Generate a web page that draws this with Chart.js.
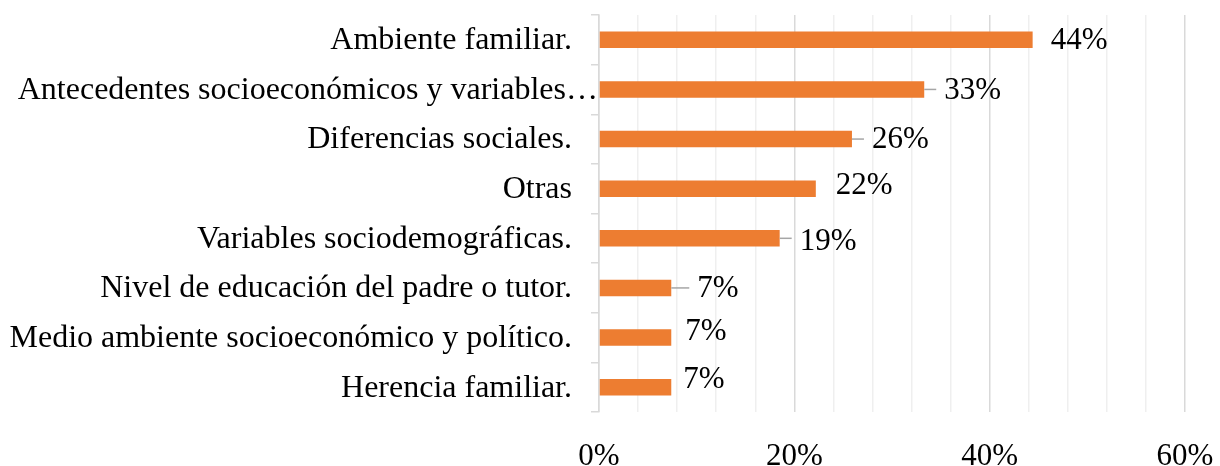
<!DOCTYPE html>
<html>
<head>
  <script src="https://cdn.jsdelivr.net/npm/chart.js@4.4.1/dist/chart.umd.min.js"></script>
  <style>
    body { margin: 0; padding: 0; overflow: hidden; background: #fff; }
    .wrap { width: 1220px; height: 466px; }
  </style>
</head>
<body>
  <div class="wrap"><canvas id="c"></canvas></div>
  <script>
    // categories and values (percent of 27 answers)
    const categories = [
      'Ambiente familiar.',
      'Antecedentes socioeconómicos y variables…',
      'Diferencias sociales.',
      'Otras',
      'Variables sociodemográficas.',
      'Nivel de educación del padre o tutor.',
      'Medio ambiente socioeconómico y político.',
      'Herencia familiar.'
    ];
    const values = [44.4, 33.3, 25.9, 22.2, 18.5, 7.4, 7.4, 7.4];
    const valueLabels = ['44%', '33%', '26%', '22%', '19%', '7%', '7%', '7%'];
    const xTicks = [0, 20, 40, 60];

    const serif = '"Liberation Serif", "Times New Roman", serif';

    // label offsets from bar end: [dx, dy, leader line?]
    const labelPlace = [
      [18, 1, false], [20, 1, true], [20, 1, true], [20, -3, false],
      [20, 4, true], [26, 1, true], [14, -6, false], [12, -7, false]
    ];

    // value labels next to bars
    const barLabels = {
      id: 'barLabels',
      afterDatasetsDraw(chart) {
        const ctx = chart.ctx;
        const meta = chart.getDatasetMeta(0);
        ctx.save();
        ctx.font = '31px ' + serif;
        ctx.fillStyle = '#000';
        ctx.textBaseline = 'middle';
        meta.data.forEach((bar, i) => {
          const [dx, dy, leader] = labelPlace[i];
          const tx = bar.x + dx;
          const ty = bar.y + dy;
          if (leader) {
            ctx.strokeStyle = '#a6a6a6';
            ctx.lineWidth = 1.5;
            ctx.beginPath();
            ctx.moveTo(bar.x, bar.y);
            ctx.lineTo(tx - 8, bar.y);
            ctx.stroke();
          }
          ctx.fillText(valueLabels[i], tx, ty);
        });
        ctx.restore();
      }
    };

    // category labels, the truncated one runs over the tick marks like in Excel
    const catLabels = {
      id: 'catLabels',
      afterDraw(chart) {
        const y = chart.scales.y;
        const ctx = chart.ctx;
        ctx.save();
        ctx.font = '32px ' + serif;
        ctx.fillStyle = '#000';
        ctx.textAlign = 'right';
        ctx.textBaseline = 'middle';
        categories.forEach((c, i) => {
          const right = c.endsWith('…') ? y.right - 1 : y.right - 27;
          ctx.fillText(c, right, y.getPixelForValue(i) + 1);
        });
        ctx.restore();
      }
    };

    new Chart(document.getElementById('c'), {
      type: 'bar',
      data: {
        labels: categories,
        datasets: [{
          data: values,
          backgroundColor: '#ed7d31',
          barPercentage: 0.33,
          categoryPercentage: 1.0
        }]
      },
      options: {
        indexAxis: 'y',
        responsive: true,
        maintainAspectRatio: false,
        animation: false,
        layout: { padding: { top: 15, right: 0, left: 0, bottom: 0 } },
        plugins: {
          legend: { display: false },
          tooltip: { enabled: false }
        },
        scales: {
          x: {
            min: 0,
            max: 60,
            border: { display: false },
            grid: {
              color: ctx => (ctx.tick && ctx.tick.value % 20 === 0) ? '#d9d9d9' : '#efefef',
              lineWidth: 1.5,
              drawTicks: false
            },
            ticks: {
              stepSize: 4,
              autoSkip: false,
              maxRotation: 0,
              padding: 26,
              color: '#000',
              font: { family: serif, size: 31 },
              callback: v => xTicks.includes(v) ? v + '%' : ''
            },
            afterFit(scale) {
              scale.height = 54;
              scale.paddingRight = 35;
              scale.paddingLeft = 0;
            }
          },
          y: {
            offset: true,
            border: { display: true, color: '#d9d9d9', width: 1.5 },
            grid: {
              offset: true,
              drawOnChartArea: false,
              color: '#d9d9d9',
              lineWidth: 1.5,
              tickLength: 8
            },
            ticks: { display: false },
            afterFit(scale) {
              scale.width = 599;
              scale.paddingTop = 0;
              scale.paddingBottom = 0;
            }
          }
        }
      },
      plugins: [barLabels, catLabels]
    });
  </script>
</body>
</html>
